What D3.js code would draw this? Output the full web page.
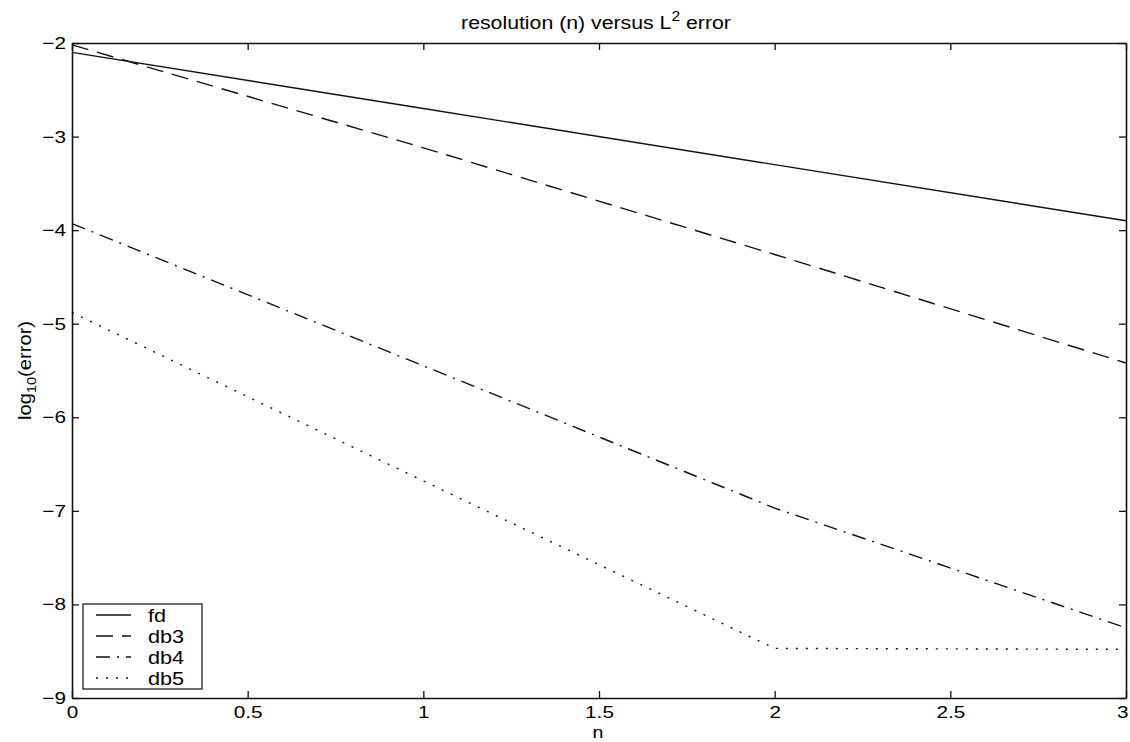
<!DOCTYPE html>
<html>
<head>
<meta charset="utf-8">
<script src="https://cdn.jsdelivr.net/npm/d3@7"></script>
<style>
  html, body { margin: 0; padding: 0; background: #fff; }
  svg { display: block; font-family: "Liberation Sans", Arial, Helvetica, sans-serif; }
</style>
</head>
<body>
<svg id="chart" width="1130" height="742"></svg>
<script>
// Resolution levels and log10 of the L2 error for each method
const nValues = [0, 1, 2, 3];
const fd  = [-2.10, -2.70, -3.30, -3.90];
const db3 = [-2.02, -3.12, -4.26, -5.42];
const db4 = [-3.93, -5.45, -6.97, -8.25];
const db5 = [-4.88, -6.68, -8.47, -8.48];
const seriesNames = ["fd", "db3", "db4", "db5"];
const xTicks = [0, 0.5, 1, 1.5, 2, 2.5, 3];
const yTicks = [-9, -8, -7, -6, -5, -4, -3, -2];

const series = [
  { name: seriesNames[0], values: fd,  dash: null },
  { name: seriesNames[1], values: db3, dash: "17,9" },
  { name: seriesNames[2], values: db4, dash: "14,7,2,7" },
  { name: seriesNames[3], values: db5, dash: "2,8" }
];

const svg = d3.select("#chart");
const m = { left: 72, right: 1126, top: 43, bottom: 698 };
const stretch = 1.22;   // slightly wide lettering

const x = d3.scaleLinear().domain([0, 3]).range([m.left, m.right]);
const y = d3.scaleLinear().domain([-9, -2]).range([m.bottom, m.top]);

const fmt = d => (d < 0 ? "\u2212" + Math.abs(d) : String(d));
const tickLen = 7;

// Axes with inward ticks on all four sides
const gBottom = svg.append("g").attr("transform", `translate(0,${m.bottom})`)
  .call(d3.axisBottom(x).tickValues(xTicks).tickFormat(fmt).tickSizeInner(-tickLen).tickSizeOuter(0).tickPadding(8));
const gTop = svg.append("g").attr("transform", `translate(0,${m.top})`)
  .call(d3.axisTop(x).tickValues(xTicks).tickFormat("").tickSizeInner(-tickLen).tickSizeOuter(0));
const gLeft = svg.append("g").attr("transform", `translate(${m.left},0)`)
  .call(d3.axisLeft(y).tickValues(yTicks).tickFormat(fmt).tickSizeInner(-tickLen).tickSizeOuter(0).tickPadding(5));
const gRight = svg.append("g").attr("transform", `translate(${m.right},0)`)
  .call(d3.axisRight(y).tickValues(yTicks).tickFormat("").tickSizeInner(-tickLen).tickSizeOuter(0));

[gBottom, gTop, gLeft, gRight].forEach(g => {
  g.select(".domain").attr("stroke", "#111").attr("stroke-width", 1.6);
  g.selectAll(".tick line").attr("stroke", "#111").attr("stroke-width", 1.3);
  g.selectAll(".tick text").attr("fill", "#000").style("font-size", "17px")
    .style("font-family", "'Liberation Sans', Arial, sans-serif")
    .attr("transform", `scale(${stretch},1)`);
});
// keep the last x label inside the page
gBottom.selectAll(".tick text").filter(d => d === 3).attr("dx", -3);

// Data lines
const line = d3.line().x((d, i) => x(nValues[i])).y(d => y(d));
series.forEach(s => {
  svg.append("path")
    .datum(s.values)
    .attr("d", line)
    .attr("fill", "none")
    .attr("stroke", "#111")
    .attr("stroke-width", 1.4)
    .attr("stroke-dasharray", s.dash);
});

// Title
const title = svg.append("text")
  .attr("transform", `translate(596,29) scale(1.12,1)`)
  .attr("text-anchor", "middle")
  .style("font-size", "19px")
  .attr("fill", "#000");
title.append("tspan").text("resolution (n) versus L");
title.append("tspan").attr("dy", -8).style("font-size", "14px").text("2");
title.append("tspan").attr("dy", 8).text(" error");

// Axis labels
svg.append("text")
  .attr("transform", `translate(598,738) scale(1.15,1)`)
  .attr("text-anchor", "middle")
  .style("font-size", "17px")
  .attr("fill", "#000")
  .text("n");

const ylab = svg.append("text")
  .attr("transform", `translate(31,${(m.top + m.bottom) / 2}) rotate(-90) scale(1.12,1)`)
  .attr("text-anchor", "middle")
  .style("font-size", "18px")
  .attr("fill", "#000");
ylab.append("tspan").text("log");
ylab.append("tspan").attr("dy", 5).style("font-size", "13px").text("10");
ylab.append("tspan").attr("dy", -5).text("(error)");

// Legend
const lg = { x: 83, y: 604, w: 119, h: 85, rowH: 21 };
svg.append("rect")
  .attr("x", lg.x).attr("y", lg.y).attr("width", lg.w).attr("height", lg.h)
  .attr("fill", "#fff").attr("stroke", "#222").attr("stroke-width", 1.3);
series.forEach((s, i) => {
  const cy = lg.y + 11 + i * lg.rowH;
  svg.append("line")
    .attr("x1", lg.x + 13).attr("x2", lg.x + 48)
    .attr("y1", cy).attr("y2", cy)
    .attr("stroke", "#111").attr("stroke-width", 1.3)
    .attr("stroke-dasharray", s.dash);
  svg.append("text")
    .attr("transform", `translate(${lg.x + 65},${cy + 7}) scale(1.2,1)`)
    .style("font-size", "18px").attr("fill", "#000")
    .text(s.name);
});
</script>
</body>
</html>
